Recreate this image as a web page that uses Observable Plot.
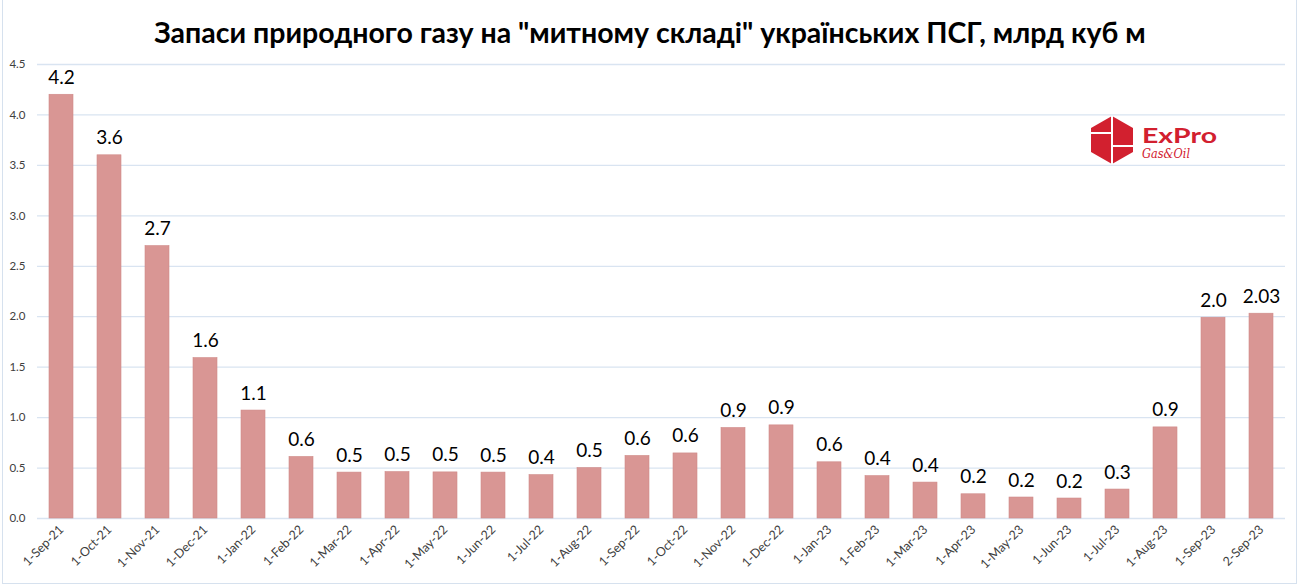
<!DOCTYPE html>
<html>
<head>
<meta charset="utf-8">
<script src="https://cdn.jsdelivr.net/npm/d3@7"></script>
<script src="https://cdn.jsdelivr.net/npm/@observablehq/plot@0.6"></script>
<style>
  html, body { margin: 0; padding: 0; background: #fff; }
  #wrap { position: relative; width: 1300px; height: 586px; overflow: hidden; font-family: Lato, "Open Sans", sans-serif; }
  #title { height: 38px; padding-top: 17px; line-height: 30px; font-size: 28.5px; font-weight: 700; text-align: center; color: #000; white-space: nowrap; }
  #frame { position: absolute; left: 2px; top: 0; width: 1295px; height: 584px; border: 1px solid #d6e1ee; border-top: none; box-sizing: border-box; pointer-events: none; }
  #logo { position: absolute; left: 1086px; top: 112px; }
</style>
</head>
<body>
<div id="wrap">
  <div id="title">Запаси природного газу на "митному складі" українських ПСГ, млрд куб м</div>
  <div id="chart"></div>
  <svg id="logo" width="150" height="56" viewBox="0 0 150 56">
    <polygon points="26,4 47,16 47,40 26,52 5,40 5,16" fill="#d2202f"/>
    <line x1="26" y1="4" x2="26" y2="52" stroke="#fff" stroke-width="2"/>
    <line x1="5" y1="21" x2="26" y2="21" stroke="#fff" stroke-width="2"/>
    <line x1="26" y1="34" x2="47" y2="34" stroke="#fff" stroke-width="2"/>
    <text x="56" y="31" font-family="Lato, sans-serif" font-weight="700" font-size="20" fill="#d2202f" textLength="75" lengthAdjust="spacingAndGlyphs">ExPro</text>
    <text x="56" y="46" font-family="'DejaVu Serif', serif" font-style="italic" font-size="12" fill="#d2202f" textLength="48" lengthAdjust="spacingAndGlyphs">Gas&amp;Oil</text>
  </svg>
  <div id="frame"></div>
</div>
<script>
const dates = ["1-Sep-21","1-Oct-21","1-Nov-21","1-Dec-21","1-Jan-22","1-Feb-22","1-Mar-22","1-Apr-22","1-May-22","1-Jun-22","1-Jul-22","1-Aug-22","1-Sep-22","1-Oct-22","1-Nov-22","1-Dec-22","1-Jan-23","1-Feb-23","1-Mar-23","1-Apr-23","1-May-23","1-Jun-23","1-Jul-23","1-Aug-23","1-Sep-23","2-Sep-23"];
const values = [4.20,3.60,2.70,1.59,1.07,0.61,0.455,0.46,0.457,0.455,0.43,0.50,0.62,0.645,0.897,0.923,0.557,0.42,0.356,0.24,0.208,0.198,0.287,0.903,1.99,2.03];
const valueLabels = ["4.2","3.6","2.7","1.6","1.1","0.6","0.5","0.5","0.5","0.5","0.4","0.5","0.6","0.6","0.9","0.9","0.6","0.4","0.4","0.2","0.2","0.2","0.3","0.9","2.0","2.03"];
const yTicks = [0,0.5,1,1.5,2,2.5,3,3.5,4,4.5];

const data = dates.map((d, i) => ({date: d, value: values[i], label: valueLabels[i]}));

const chart = Plot.plot({
  width: 1300,
  height: 530,
  marginLeft: 37,
  marginRight: 15,
  marginTop: 9,
  marginBottom: 67,
  style: {fontFamily: "Lato, 'Open Sans', sans-serif", background: "#fff"},
  x: {domain: dates, paddingInner: 0.5, paddingOuter: 0.25, label: null},
  y: {domain: [0, 4.5], label: null},
  marks: [
    Plot.ruleY(yTicks, {stroke: "#d9e4f1", strokeWidth: 1.3}),
    Plot.barY(data, {x: "date", y: "value", fill: "#d99694", stroke: "#cf8a88", strokeWidth: 0.6}),
    Plot.text(data, {x: "date", y: "value", text: "label", lineAnchor: "bottom", dy: -11, fontSize: 19, fill: "#000"}),
    Plot.axisY({ticks: yTicks, tickFormat: d => d.toFixed(1), tickSize: 0, tickPadding: 12, fontSize: 11.5, color: "#404040"}),
    Plot.axisX({tickSize: 0, tickPadding: 9, tickRotate: -45, fontSize: 12.5, color: "#404040"})
  ]
});
document.getElementById("chart").appendChild(chart);
</script>
</body>
</html>
